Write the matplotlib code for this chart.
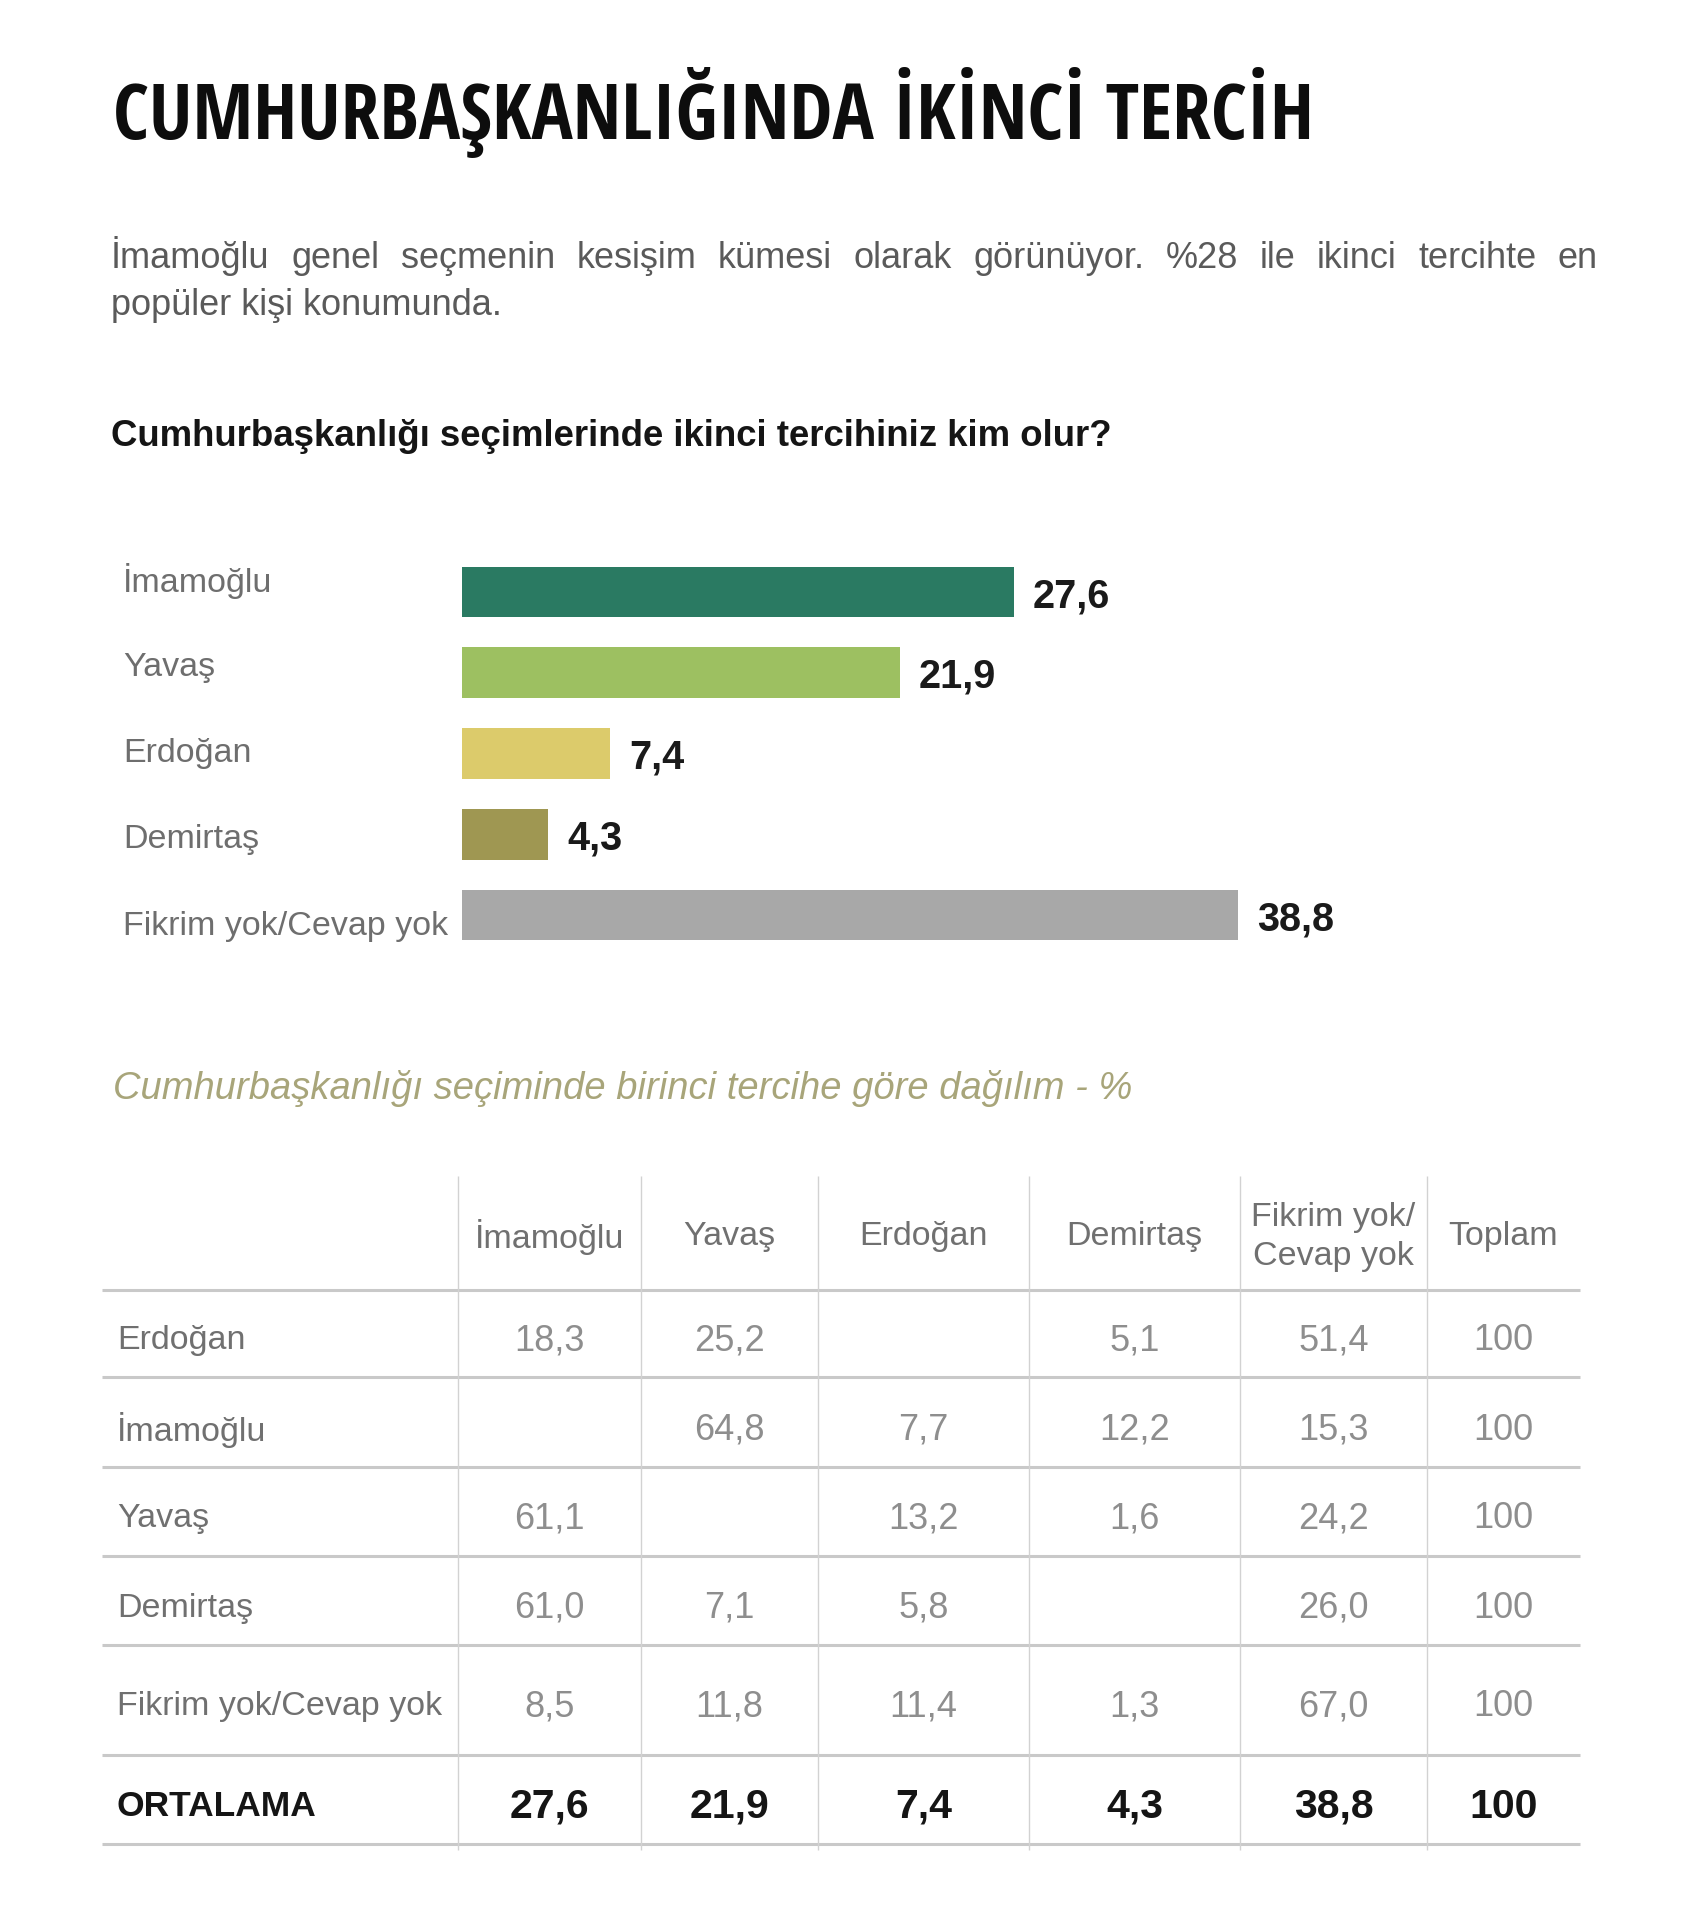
import matplotlib
matplotlib.use("Agg")
import matplotlib.pyplot as plt
from matplotlib import font_manager
from matplotlib.transforms import blended_transform_factory

# ---------------- data ----------------
title = "CUMHURBAŞKANLIĞINDA İKİNCİ TERCİH"
intro_line1 = "İmamoğlu genel seçmenin kesişim kümesi olarak görünüyor.  %28 ile ikinci tercihte en"
intro_line2 = "popüler kişi konumunda."
question = "Cumhurbaşkanlığı seçimlerinde ikinci tercihiniz kim olur?"
table_title = "Cumhurbaşkanlığı seçiminde birinci tercihe göre dağılım - %"

bar_categories = ["İmamoğlu", "Yavaş", "Erdoğan", "Demirtaş", "Fikrim yok/Cevap yok"]
bar_values = [27.6, 21.9, 7.4, 4.3, 38.8]
bar_colors = ["#2a7a62", "#9dc061", "#dccb6b", "#9f9752", "#a8a8a8"]

col_headers = ["İmamoğlu", "Yavaş", "Erdoğan", "Demirtaş", "Fikrim yok/\nCevap yok", "Toplam"]
row_labels = ["Erdoğan", "İmamoğlu", "Yavaş", "Demirtaş", "Fikrim yok/Cevap yok"]
row_erdogan = [18.3, 25.2, None, 5.1, 51.4, 100]
row_imamoglu = [None, 64.8, 7.7, 12.2, 15.3, 100]
row_yavas = [61.1, None, 13.2, 1.6, 24.2, 100]
row_demirtas = [61.0, 7.1, 5.8, None, 26.0, 100]
row_fikrim = [8.5, 11.8, 11.4, 1.3, 67.0, 100]
avg_label = "ORTALAMA"
avg_values = [27.6, 21.9, 7.4, 4.3, 38.8, 100]
table_rows = [row_erdogan, row_imamoglu, row_yavas, row_demirtas, row_fikrim]


def fmt(v, is_total):
    if v is None:
        return ""
    if is_total:
        return f"{int(v)}"
    return f"{v:.1f}".replace(".", ",")


# ---------------- figure ----------------
W, H, DPI = 1700, 1932, 100
fig = plt.figure(figsize=(W / DPI, H / DPI), dpi=DPI, facecolor="white")
ax0 = fig.add_axes([0, 0, 1, 1])
ax0.set_xlim(0, W)
ax0.set_ylim(H, 0)
ax0.axis("off")
renderer = fig.canvas.get_renderer()

BODY = ["Liberation Sans", "DejaVu Sans"]


def pick_condensed():
    fl = font_manager.fontManager.ttflist
    names = {f.name for f in fl}
    for cand in ["Liberation Sans Narrow", "Open Sans Condensed", "Roboto Condensed"]:
        if cand in names:
            return dict(family=[cand, "DejaVu Sans"], fontstretch="normal")
    for f in fl:
        if f.name == "DejaVu Sans" and f.stretch == "condensed":
            return dict(family=["DejaVu Sans"], fontstretch="condensed")
    return dict(family=BODY, fontstretch="normal")


def fit_width(t, target):
    w = t.get_window_extent(renderer).width
    t.set_fontsize(t.get_fontsize() * target / w)


# title
tt = ax0.text(113, 139, title, fontsize=50, fontweight="heavy", color="#0d0d0d",
              va="baseline", ha="left", **pick_condensed())
fit_width(tt, 1202)

# intro paragraph (justified first line)
def justify(text, x0, x1, y, **kw):
    words = text.split()
    objs = [ax0.text(0, y, w, **kw) for w in words]
    widths = [o.get_window_extent(renderer).width for o in objs]
    gap = (x1 - x0 - sum(widths)) / (len(words) - 1)
    x = x0
    for o, w in zip(objs, widths):
        o.set_x(x)
        x += w + gap

intro_kw = dict(fontsize=26, color="#5a5a5a", family=BODY, va="baseline", ha="left")
justify(intro_line1, 111, 1598, 268, **intro_kw)
ax0.text(111, 315, intro_line2, **intro_kw)

# question
tq = ax0.text(111, 446, question, fontsize=26, fontweight="bold", color="#151515",
              family=BODY, va="baseline", ha="left")
fit_width(tq, 1004)

# ---------------- bar chart ----------------
x0_px, px_per_unit, xmax = 462, 20.0, 50
y_top, y_bot = 551.6, 955.4
axb = fig.add_axes([x0_px / W, 1 - y_bot / H, xmax * px_per_unit / W, (y_bot - y_top) / H])
axb.set_xlim(0, xmax)
axb.set_ylim(len(bar_categories) - 0.5, -0.5)
axb.axis("off")
ypos = list(range(len(bar_categories)))
axb.barh(ypos, bar_values, height=0.63, color=bar_colors)
lab_tr = blended_transform_factory(axb.transAxes, axb.transData)
lab_x = (123 - x0_px) / (xmax * px_per_unit)
for y, cat, v in zip(ypos, bar_categories, bar_values):
    axb.text(lab_x, -0.14 + 1.07 * y, cat, transform=lab_tr, fontsize=24.5, color="#6e6e6e",
             family=BODY, va="center", ha="left")
    axb.text(v + 0.95, y + 0.05, fmt(v, False), fontsize=28.5, fontweight="bold",
             color="#1a1a1a", family=BODY, va="center", ha="left")

# ---------------- table ----------------
ttab = ax0.text(113, 1099, table_title, fontsize=25, style="italic", color="#a8a57a",
                family=BODY, va="baseline", ha="left")
fit_width(ttab, 1018)

col_edges = [458, 641, 818, 1029, 1240, 1427, 1580]
h_lines = [1290, 1377, 1467, 1556, 1645, 1755, 1844]
table_left = 102
v_top, v_bot = 1176, 1850
text_rows_y = [1341, 1430, 1519, 1608, 1707, 1807]
header_y = 1237

ax0.hlines(h_lines, table_left, col_edges[-1], colors="#c9c9c9", linewidth=2.2)
ax0.vlines(col_edges[:-1], v_top, v_bot, colors="#d2d2d2", linewidth=1.0)

col_centers = [(a + b) / 2 for a, b in zip(col_edges[:-1], col_edges[1:])]
ncol = len(col_headers)
for cx, hd in zip(col_centers, col_headers):
    ax0.text(cx, header_y, hd, fontsize=24.5, color="#707070", family=BODY,
             ha="center", va="center", linespacing=1.32, multialignment="center")

for ry, lab, vals in zip(text_rows_y, row_labels, table_rows):
    ax0.text(117, ry, lab, fontsize=24.5, color="#707070", family=BODY, ha="left", va="center")
    for j, (cx, v) in enumerate(zip(col_centers, vals)):
        ax0.text(cx, ry, fmt(v, j == ncol - 1), fontsize=26, color="#8e8e8e",
                 family=BODY, ha="center", va="center")

ry = text_rows_y[-1]
ax0.text(117, ry, avg_label, fontsize=25.5, fontweight="bold", color="#151515",
         family=BODY, ha="left", va="center")
for j, (cx, v) in enumerate(zip(col_centers, avg_values)):
    ax0.text(cx, ry, fmt(v, j == ncol - 1), fontsize=29.5, fontweight="bold",
             color="#151515", family=BODY, ha="center", va="center")

fig.savefig("out.png", dpi=DPI, facecolor="white")
